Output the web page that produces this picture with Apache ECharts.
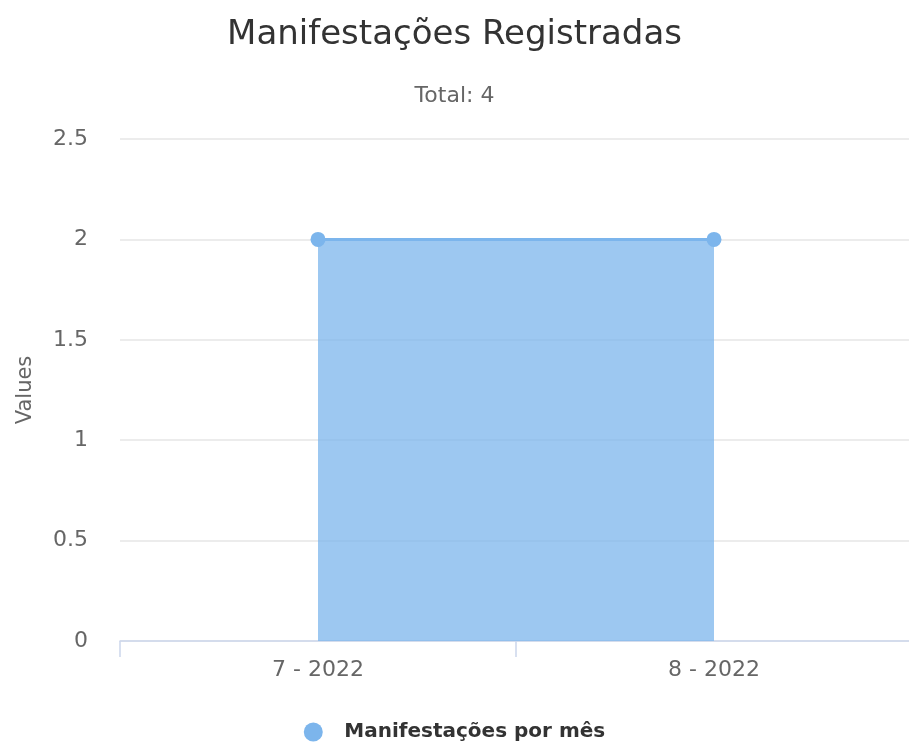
<!DOCTYPE html>
<html>
<head>
<meta charset="utf-8">
<script src="https://cdn.jsdelivr.net/npm/echarts@6/dist/echarts.min.js"></script>
<style>
  html, body { margin: 0; padding: 0; background: #fff; }
  #chart { width: 909px; height: 751px; }
</style>
</head>
<body>
<div id="chart"></div>
<script>
const categories = ['7 - 2022', '8 - 2022']
const values = [2, 2]
const seriesName = 'Manifestações por mês'
const titleText = 'Manifestações Registradas'
const subtitleText = 'Total: 4'

const font = '"DejaVu Sans", "Open Sans", sans-serif'
const chart = echarts.init(document.getElementById('chart'))

chart.setOption({
  animation: false,
  textStyle: { fontFamily: font },
  title: [
    {
      text: titleText,
      left: 'center',
      top: 13,
      textStyle: { fontFamily: font, fontSize: 34, fontWeight: 'normal', color: '#333333' }
    },
    {
      text: subtitleText,
      left: 'center',
      top: 80,
      textStyle: { fontFamily: font, fontSize: 22, fontWeight: 'normal', color: '#666666' }
    }
  ],
  // keep the plot exactly where it is in the picture (v6 would shrink it to fit)
  grid: { left: 120, width: 792, top: 139, bottom: 110, containLabel: false, outerBoundsMode: 'none' },
  legend: {
    bottom: 4,
    left: 'center',
    icon: 'circle',
    itemWidth: 52,
    itemHeight: 19,
    itemGap: 10,
    textStyle: { fontFamily: font, fontSize: 20, fontWeight: 'bold', color: '#333333' },
    data: [seriesName]
  },
  xAxis: {
    type: 'category',
    data: categories,
    boundaryGap: true,
    axisLine: { lineStyle: { color: '#ccd6eb', width: 1.5 } },
    axisTick: { show: true, length: 16, lineStyle: { color: '#ccd6eb', width: 1.5 } },
    axisLabel: { fontSize: 22, color: '#666666', margin: 18 },
    splitLine: { show: false }
  },
  yAxis: {
    type: 'value',
    min: 0,
    max: 2.5,
    interval: 0.5,
    name: 'Values',
    nameLocation: 'middle',
    nameGap: 84,
    nameTextStyle: { fontSize: 21, color: '#666666' },
    axisLine: { show: false },
    axisTick: { show: false },
    axisLabel: { fontSize: 22, color: '#666666', margin: 32, padding: [6, 0, 0, 0] },
    splitLine: { lineStyle: { color: '#e6e6e6', width: 1.5 } }
  },
  series: [
    {
      name: seriesName,
      type: 'line',
      data: values,
      color: '#7cb5ec',
      symbol: 'circle',
      symbolSize: 15,
      lineStyle: { width: 3, color: '#7cb5ec' },
      itemStyle: { color: '#7cb5ec' },
      areaStyle: { color: '#7cb5ec', opacity: 0.75 }
    }
  ]
})
</script>
</body>
</html>
